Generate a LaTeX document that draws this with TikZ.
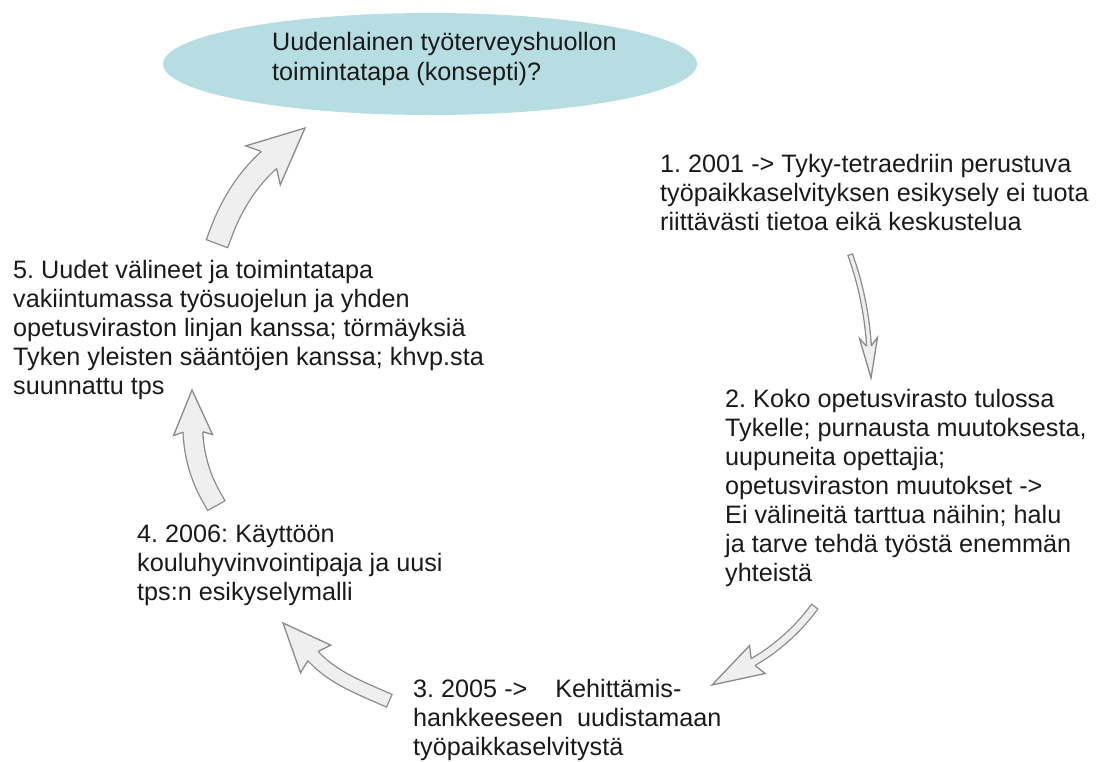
\documentclass[tikz,border=0pt]{standalone}
\usepackage{fontspec}
\setmainfont{Liberation Sans}
\usetikzlibrary{calc,shapes.geometric}

\definecolor{goalfill}{HTML}{B6DDE1}
\definecolor{edgegray}{HTML}{8A8A8A}
\definecolor{arrowfill}{HTML}{EFEFEF}
\definecolor{inkcol}{HTML}{1A1A1A}

% Curved block arrow: #1 tail, #2 first control point, #3 head base, #4 tip,
% #5 inner width of the shaft, #6 half width of the shaft outline,
% #7 half width of the head, #8 how far the barbs reach back,
% #9 distance of the second control point behind the head base
\newcommand{\cyclearrow}[9]{%
  \coordinate (hc) at ($(#3)!-#9!(#4)$);
  \draw[shaft, double distance=#5] (#1) .. controls (#2) and (hc) .. (#3);
  \coordinate (hb) at ($(#3)!-#8!(#4)$);
  \coordinate (hs1) at ($(#3)!#6!90:(#4)$);
  \coordinate (hs2) at ($(#3)!#6!-90:(#4)$);
  \coordinate (hb1) at ($(hb)!#7!90:(#4)$);
  \coordinate (hb2) at ($(hb)!#7!-90:(#4)$);
  \fill[arrowfill] (hs1) -- (hb1) -- (#4) -- (hb2) -- (hs2) -- cycle;
  \draw[headedge] (hs1) -- (hb1) -- (#4) -- (hb2) -- (hs2);
}

\begin{document}
\frenchspacing
\begin{tikzpicture}[x=1pt,y=-1pt,
  phasetext/.style={anchor=north west, inner sep=0pt, align=left, text=inkcol,
    font=\fontsize{25.2}{29}\selectfont},
  shaft/.style={draw=edgegray, line width=1.3pt, double=arrowfill, line cap=rect},
  headedge/.style={draw=edgegray, line width=1.3pt, line join=miter},
]
\useasboundingbox (0,0) rectangle (1102,761);

% goal ellipse
\node[ellipse, fill=goalfill, minimum width=534pt, minimum height=102pt, inner sep=0pt]
  (goal) at (430,64) {};
\node[phasetext, font=\fontsize{25.2}{30}\selectfont] (goaltext) at (272,29)
  {\strut Uudenlainen työterveyshuollon\\toimintatapa (konsepti)?};

% phases of the cycle
\node[phasetext] (phase1) at (660,151.7)
  {\strut 1. 2001 -> Tyky-tetraedriin perustuva\\työpaikkaselvityksen esikysely ei tuota\\riittävästi tietoa eikä keskustelua};
\node[phasetext] (phase2) at (725,386.7)
  {\strut 2. Koko opetusvirasto tulossa\\Tykelle; purnausta muutoksesta,\\uupuneita opettajia;\\opetusviraston muutokset ->\\Ei välineitä tarttua näihin; halu\\ja tarve tehdä työstä enemmän\\yhteistä};
\node[phasetext] (phase3) at (413,676.7)
  {\strut 3. 2005 ->\ \ \ \ Kehittämis-\\hankkeeseen\ \ uudistamaan\\työpaikkaselvitystä};
\node[phasetext] (phase4) at (137,521.7)
  {\strut 4. 2006: Käyttöön\\kouluhyvinvointipaja ja uusi\\tps:n esikyselymalli};
\node[phasetext] (phase5) at (13,257.7)
  {\strut 5. Uudet välineet ja toimintatapa\\vakiintumassa työsuojelun ja yhden\\opetusviraston linjan kanssa; törmäyksiä\\Tyken yleisten sääntöjen kanssa; khvp.sta\\suunnattu tps};

% arrow end points
\coordinate (tailA) at (851,257);   \coordinate (ctrlA) at (861,285);
\coordinate (baseA) at (869,346);   \coordinate (tipA) at (871,378);
\coordinate (tailB) at (812.4,609.7); \coordinate (ctrlB) at (797,630);
\coordinate (baseB) at (753,662);   \coordinate (tipB) at (712,685);
\coordinate (tailC) at (383,698);   \coordinate (ctrlC) at (358,687);
\coordinate (baseC) at (313,656);   \coordinate (tipC) at (283,623);
\coordinate (tailD) at (211.5,497); \coordinate (ctrlD) at (200.4,478);
\coordinate (baseD) at (193,432);   \coordinate (tipD) at (192,390);
\coordinate (tailE) at (221,233);   \coordinate (ctrlE) at (231,205.5);
\coordinate (baseE) at (269,160);   \coordinate (tipE) at (305,128);

\cyclearrow{tailA}{ctrlA}{baseA}{tipA}{3.4pt}{2.35pt}{9pt}{8pt}{30pt}
\cyclearrow{tailB}{ctrlB}{baseB}{tipB}{6.4pt}{3.85pt}{16pt}{5pt}{26pt}
\cyclearrow{tailC}{ctrlC}{baseC}{tipC}{12.4pt}{6.85pt}{20.5pt}{4pt}{28pt}
\cyclearrow{tailD}{ctrlD}{baseD}{tipD}{18.4pt}{9.85pt}{19.5pt}{3pt}{22pt}
\cyclearrow{tailE}{ctrlE}{baseE}{tipE}{21.4pt}{11.35pt}{26pt}{8pt}{29pt}
\end{tikzpicture}
\end{document}
